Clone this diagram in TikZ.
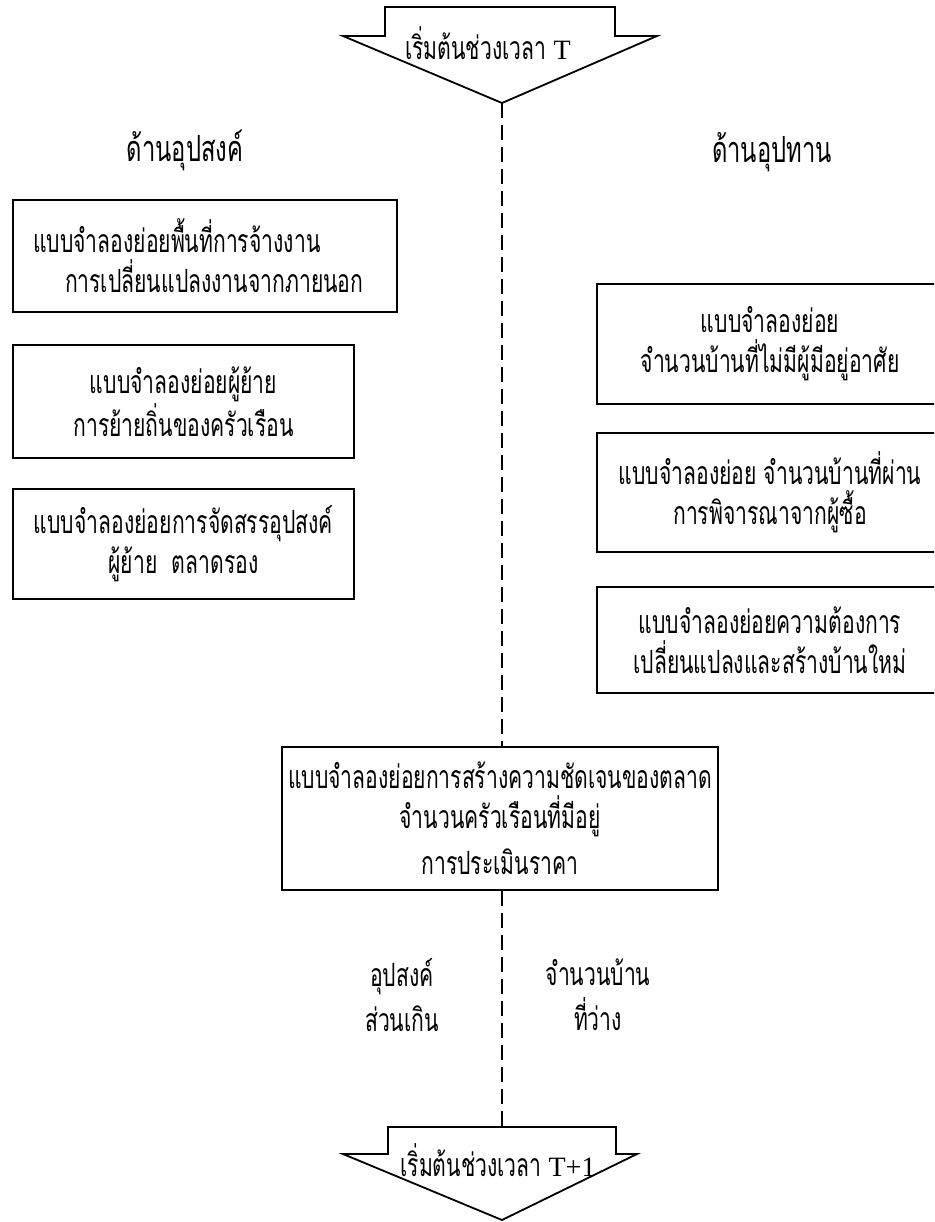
\documentclass[tikz,border=0pt]{standalone}
\usepackage{fontspec}
\newfontfamily\thaifont[Script=Thai,FakeStretch=0.66]{Loma}
\newfontfamily\latinfont{Liberation Serif}
\usetikzlibrary{positioning}
\tikzset{
  submodel/.style={draw, line width=0.9pt, align=center, inner sep=0pt,
    font=\thaifont\fontsize{16}{20}\selectfont},
  sidehead/.style={font=\thaifont\fontsize{18}{20}\selectfont},
  result/.style={align=center, font=\thaifont\fontsize{16}{22.5}\selectfont},
  periodtext/.style={font=\thaifont\fontsize{16}{20}\selectfont},
  period/.style={draw, line width=0.9pt, line join=miter},
  timeline/.style={line width=0.9pt, dash pattern=on 7.5pt off 3.5pt},
}
\newcommand\latinT[1]{{\latinfont\fontsize{14}{20}\selectfont #1}}
\begin{document}
\begin{tikzpicture}[x=0.5pt,y=-0.5pt]
\useasboundingbox (0,0) rectangle (934,1222);
\clip (0,0) rectangle (934,1222);
  % start of period T
  \draw[period] (385,7) -- (615,7) -- (615,36) -- (657,36) -- (502,103)
    -- (343,36) -- (385,36) -- cycle;
  \node[periodtext] (startT) at (488,43) {เริ่มต้นช่วงเวลา \latinT{T}};
  \coordinate (tipT) at (502,103);
  % headings
  \node[sidehead] (demand) at (185,150) {ด้านอุปสงค์};
  \node[sidehead] (supply) at (772,152) {ด้านอุปทาน};
  % demand side
  \node[submodel, minimum width=192pt, minimum height=56pt,
    text width=172pt, align=left] (jobs) at (205,256)
    {แบบจำลองย่อยพื้นที่การจ้างงาน\\\hspace*{16pt}การเปลี่ยนแปลงงานจากภายนอก};
  \node[submodel, minimum width=170.5pt, minimum height=56.5pt] (movers)
    at (183.5,401.5) {แบบจำลองย่อยผู้ย้าย\\การย้ายถิ่นของครัวเรือน};
  \node[submodel, minimum width=170.5pt, minimum height=55pt] (alloc)
    at (183.5,544) {แบบจำลองย่อยการจัดสรรอุปสงค์\\ผู้ย้าย\ \ ตลาดรอง};
  % supply side
  \node[submodel, minimum width=173pt, minimum height=60pt] (vacant)
    at (770,344) {แบบจำลองย่อย\\จำนวนบ้านที่ไม่มีผู้มีอยู่อาศัย};
  \node[submodel, minimum width=173pt, minimum height=59.5pt] (buyers)
    at (770,492.5) {แบบจำลองย่อย จำนวนบ้านที่ผ่าน\\การพิจารณาจากผู้ซื้อ};
  \node[submodel, minimum width=173pt, minimum height=53pt] (newbuild)
    at (770,640) {แบบจำลองย่อยความต้องการ\\เปลี่ยนแปลงและสร้างบ้านใหม่};
  % market clearing
  \node[submodel, minimum width=218pt, minimum height=71.5pt] (market)
    at (500,818.5) {แบบจำลองย่อยการสร้างความชัดเจนของตลาด\\จำนวนครัวเรือนที่มีอยู่\\[3pt]การประเมินราคา};
  \node[result] (excess) at (402,995) {อุปสงค์\\ส่วนเกิน};
  \node[result] (empty) at (598,995) {จำนวนบ้าน\\ที่ว่าง};
  % start of period T+1
  \draw[period] (388,1127) -- (616,1127) -- (616,1154) -- (637,1154) -- (502,1220)
    -- (343,1154) -- (388,1154) -- cycle;
  \node[periodtext] (startT1) at (498,1160) {เริ่มต้นช่วงเวลา \latinT{T+1}};
  \coordinate (topT1) at (502,1127);
  % time line
  \draw[timeline] (tipT) -- (tipT |- market.north);
  \draw[timeline] (tipT |- market.south) -- (topT1);
\end{tikzpicture}
\end{document}
